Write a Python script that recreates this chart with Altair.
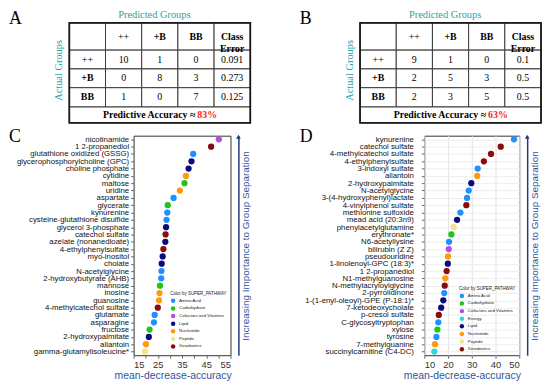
import altair as alt
import pandas as pd

# ----------------------------- data -----------------------------
GROUPS = ["++", "+B", "BB"]
CONF_A = [[10, 1, 0], [0, 8, 3], [1, 0, 7]]
ERR_A = ["0.091", "0.273", "0.125"]
ACC_A = "83%"
CONF_B = [[9, 1, 0], [2, 5, 3], [2, 3, 5]]
ERR_B = ["0.1", "0.5", "0.5"]
ACC_B = "63%"

PATHWAYS = ["Amino Acid", "Carbohydrate", "Cofactors and Vitamins", "Energy",
            "Lipid", "Nucleotide", "Peptide", "Xenobiotics"]
PATHWAY_COLORS = ["#1e90ff", "#1fc41f", "#b24fe0", "#2ed8cf",
                  "#0b0b7d", "#ff9a0d", "#f5e28c", "#8b0b0b"]

C_NAMES = ["nicotinamide", "1 2-propanediol", "glutathione oxidized (GSSG)",
           "glycerophosphorylcholine (GPC)", "choline phosphate", "cytidine", "maltose",
           "uridine", "aspartate", "glycerate", "kynurenine", "cysteine-glutathione disulfide",
           "glycerol 3-phosphate", "catechol sulfate", "azelate (nonanedioate)",
           "4-ethylphenylsulfate", "myo-inositol", "cholate", "N-acetylglycine",
           "2-hydroxybutyrate (AHB)", "mannose", "inosine", "guanosine",
           "4-methylcatechol sulfate", "glutamate", "asparagine", "fructose",
           "2-hydroxypalmitate", "allantoin", "gamma-glutamylisoleucine*"]
C_VALUES = [50.2, 47.0, 39.6, 38.9, 37.7, 36.6, 36.0, 34.1, 31.5, 29.1, 28.9, 28.6, 28.4,
            28.2, 28.1, 27.3, 27.0, 26.6, 26.5, 26.4, 25.9, 25.7, 25.5, 25.0, 23.7, 23.4,
            21.6, 21.3, 20.1, 19.7]
C_PATHWAY = ["Cofactors and Vitamins", "Xenobiotics", "Amino Acid", "Lipid", "Lipid",
             "Nucleotide", "Carbohydrate", "Nucleotide", "Amino Acid", "Carbohydrate",
             "Amino Acid", "Amino Acid", "Lipid", "Xenobiotics", "Lipid", "Xenobiotics",
             "Lipid", "Lipid", "Amino Acid", "Amino Acid", "Carbohydrate", "Nucleotide",
             "Nucleotide", "Xenobiotics", "Amino Acid", "Amino Acid", "Carbohydrate",
             "Lipid", "Nucleotide", "Peptide"]
C_TICKS = [15, 20, 25, 30, 35, 40, 45, 50, 55]

D_NAMES = ["kynurenine", "catechol sulfate", "4-methylcatechol sulfate",
           "4-ethylphenylsulfate", "3-indoxyl sulfate", "allantoin", "2-hydroxypalmitate",
           "N-acetylglycine", "3-(4-hydroxyphenyl)lactate", "4-vinylphenol sulfate",
           "methionine sulfoxide", "mead acid (20:3n9)", "phenylacetylglutamine",
           "erythronate*", "N6-acetyllysine", "bilirubin (Z Z)", "pseudouridine",
           "1-linolenoyl-GPC (18:3)*", "1 2-propanediol", "N1-methylguanosine",
           "N-methylacryloylglycine", "2-pyrrolidinone", "1-(1-enyl-oleoyl)-GPE (P-18:1)*",
           "7-ketodeoxycholate", "p-cresol sulfate", "C-glycosyltryptophan", "xylose",
           "tyrosine", "7-methylguanine", "succinylcarnitine (C4-DC)"]
D_VALUES = [47.8, 42.2, 38.1, 35.1, 32.5, 32.3, 29.8, 28.7, 28.0, 27.7, 25.2, 23.8, 22.4,
            21.4, 20.4, 20.3, 20.0, 19.9, 19.4, 18.8, 18.6, 18.4, 18.0, 17.1, 16.1, 15.9,
            15.5, 15.1, 14.5, 14.2]
D_PATHWAY = ["Amino Acid", "Xenobiotics", "Xenobiotics", "Xenobiotics", "Amino Acid",
             "Nucleotide", "Lipid", "Amino Acid", "Amino Acid", "Xenobiotics", "Amino Acid",
             "Lipid", "Peptide", "Carbohydrate", "Amino Acid", "Cofactors and Vitamins",
             "Nucleotide", "Lipid", "Xenobiotics", "Nucleotide", "Xenobiotics", "Amino Acid",
             "Lipid", "Lipid", "Xenobiotics", "Amino Acid", "Carbohydrate", "Amino Acid",
             "Nucleotide", "Energy"]
D_TICKS = [10, 20, 30, 40, 50]

# ----------------------------- style / layout -----------------------------
SERIF = "Liberation Serif"
SANS = "Liberation Sans"
TEAL = "#1fa5a5"
AXIS_BLUE = "#2b56a0"
ARROW_BLUE = "#1f3a80"
ROW_H = [27.5, 19, 19, 19.5, 16]   # relative row heights of the tables
TBL_X = [-65, 118]                 # pixel extent of a table relative to the panel below it
TBL_H = 101
DOT_H = 222
LETTER_X = -126


def table_chart(conf, err, acc, letter):
    edges = [0.0]
    for h in ROW_H:
        edges.append(edges[-1] + h)
    total = edges[-1]
    mid = [(edges[i] + edges[i + 1]) / 2 for i in range(5)]
    cells = [dict(x0=c, x1=c + 1, y0=edges[r], y1=edges[r + 1]) for r in range(4) for c in range(5)]
    cells.append(dict(x0=0, x1=5, y0=edges[4], y1=edges[5]))

    normal, bold = [], []
    for j, g in enumerate(GROUPS):
        (normal if g == "++" else bold).append(dict(t=g, x=j + 1.5, y=mid[0]))
    bold.append(dict(t="Class\nError", x=4.5, y=mid[0]))
    for i, g in enumerate(GROUPS):
        (normal if g == "++" else bold).append(dict(t=g, x=0.5, y=mid[i + 1]))
        for j in range(3):
            normal.append(dict(t=str(conf[i][j]), x=j + 1.5, y=mid[i + 1]))
        normal.append(dict(t=err[i], x=4.5, y=mid[i + 1]))

    xs = alt.Scale(domain=[0, 5], range=TBL_X, nice=False, zero=False)
    ys = alt.Scale(domain=[0, total], nice=False, zero=False, reverse=True)

    def X(f):
        return alt.X(f, scale=xs, axis=None)

    def Y(f):
        return alt.Y(f, scale=ys, axis=None)

    grid = alt.Chart(pd.DataFrame(cells)).mark_rect(
        fill="white", stroke="#3a3a3a", strokeWidth=1
    ).encode(x=X("x0:Q"), x2="x1:Q", y=Y("y0:Q"), y2="y1:Q")
    border = alt.Chart(pd.DataFrame({"x0": [0], "x1": [5], "y0": [0.0], "y1": [total]})).mark_rect(
        fillOpacity=0, stroke="#1a1a1a", strokeWidth=1.8
    ).encode(x=X("x0:Q"), x2="x1:Q", y=Y("y0:Q"), y2="y1:Q")

    def txt(rows, weight):
        return alt.Chart(pd.DataFrame(rows)).mark_text(
            font=SERIF, fontSize=10, fontWeight=weight, color="black", lineBreak="\n", lineHeight=13
        ).encode(x=X("x:Q"), y=Y("y:Q"), text="t:N")

    foot = pd.DataFrame({"x": [2.5], "y": [mid[4]], "a": ["Predictive Accuracy \u2248 "], "b": [acc]})
    foot1 = alt.Chart(foot).mark_text(font=SERIF, fontSize=10, fontWeight="bold", color="black",
                                      align="right", dx=36).encode(x=X("x:Q"), y=Y("y:Q"), text="a:N")
    foot2 = alt.Chart(foot).mark_text(font=SERIF, fontSize=10, fontWeight="bold", color="#ff1a1a",
                                      align="left", dx=38).encode(x=X("x:Q"), y=Y("y:Q"), text="b:N")

    lab = pd.DataFrame({"t": [letter], "p": ["Predicted Groups"], "q": ["Actual Groups"]})
    let = alt.Chart(lab).mark_text(
        font=SERIF, fontSize=18, align="left", baseline="alphabetic", color="black"
    ).encode(text="t:N", x=alt.value(LETTER_X), y=alt.value(1))
    pred = alt.Chart(lab).mark_text(
        font=SERIF, fontSize=10.5, align="center", baseline="alphabetic", color=TEAL
    ).encode(text="p:N", x=alt.value(21), y=alt.value(-5))
    act = alt.Chart(lab).mark_text(
        font=SERIF, fontSize=10.5, align="center", baseline="middle", color=TEAL, angle=270
    ).encode(text="q:N", x=alt.value(-75), y=alt.value(48))

    return alt.layer(grid, border, txt(normal, "normal"), txt(bold, "bold"), foot1, foot2,
                     let, pred, act).properties(width=TBL_X[1], height=TBL_H)


def dot_chart(names, vals, paths, xdom, ticks, width, letter, legend_dom, lx, ly, lab_pad, grid, title_x):
    df = pd.DataFrame({"name": names, "v": vals, "p": paths})
    cols = [PATHWAY_COLORS[PATHWAYS.index(p)] for p in legend_dom]
    pts = alt.Chart(df).mark_circle(size=40, opacity=1).encode(
        x=alt.X("v:Q", scale=alt.Scale(domain=xdom, nice=False, zero=False), axis=alt.Axis(
            values=ticks, title="mean-decrease-accuracy", titleColor=AXIS_BLUE, titleFont=SANS,
            titleFontSize=10.5, titleFontWeight="normal", labelFont=SANS, labelFontSize=9.5,
            labelColor="#333", tickSize=3, tickColor="#666", labelPadding=1, titlePadding=2,
            domain=False, grid=grid, gridColor="#e4e4e4", titleX=title_x)),
        y=alt.Y("name:N", sort=names, axis=alt.Axis(
            title=None, labelFont=SANS, labelFontSize=7.9, labelColor="#111", tickSize=3,
            tickColor="#666", labelPadding=lab_pad, domain=False, grid=grid, gridColor="#ededed",
            labelLimit=300)),
        color=alt.Color("p:N", scale=alt.Scale(domain=legend_dom, range=cols), legend=alt.Legend(
            title="Color by SUPER_PATHWAY", orient="none", legendX=lx, legendY=ly,
            titleFont=SANS, titleFontSize=4.5, titleFontWeight="normal", titleColor="#222",
            labelFont=SANS, labelFontSize=4.4, labelColor="#222", symbolSize=20,
            symbolType="circle", rowPadding=1.7, titlePadding=2.5, padding=0, labelOffset=3)),
    )
    right = alt.Chart(df).mark_circle(opacity=0).encode(
        y=alt.Y("name:N", sort=names, axis=alt.Axis(
            orient="right", title="Increasing Importance to Group Separation", labels=False,
            ticks=False, domain=True, domainColor=ARROW_BLUE, domainWidth=1.5, offset=8,
            grid=False, titleAngle=270, titleBaseline="top", titlePadding=2, titleFont=SANS,
            titleFontSize=10, titleFontWeight="normal", titleColor=AXIS_BLUE)))
    arrow = alt.Chart(pd.DataFrame({"a": [0]})).mark_point(
        shape="triangle-up", filled=True, size=22, color=ARROW_BLUE, opacity=1
    ).encode(x=alt.value(width + 8), y=alt.value(1))
    let = alt.Chart(pd.DataFrame({"t": [letter]})).mark_text(
        font=SERIF, fontSize=18, align="left", baseline="alphabetic", color="black"
    ).encode(text="t:N", x=alt.value(LETTER_X), y=alt.value(6))
    return alt.layer(pts, right, arrow, let).resolve_axis(y="independent").properties(
        width=width, height=DOT_H, view=alt.ViewBackground(stroke="#333", strokeWidth=1))


tA = table_chart(CONF_A, ERR_A, ACC_A, "A")
tB = table_chart(CONF_B, ERR_B, ACC_B, "B")
C_LEG = [p for p in PATHWAYS if p != "Energy"]
dC = dot_chart(C_NAMES, C_VALUES, C_PATHWAY, [15, 55], C_TICKS, 98, "C", C_LEG, 37, 157, 2, False, 39.5)
dD = dot_chart(D_NAMES, D_VALUES, D_PATHWAY, [10, 50], D_TICKS, 96, "D", PATHWAYS, 35, 152, 8, True, 38)

top = alt.hconcat(tA, tB, spacing=294 - TBL_X[1], bounds="flush").resolve_scale(
    x="independent", y="independent")
bottom = alt.hconcat(dC, dD, spacing=196, bounds="flush").resolve_scale(
    color="independent", x="independent", y="independent")
chart = alt.vconcat(top, bottom, spacing=3).properties(padding=0).configure_view(stroke=None)

chart.save("out.html", embed_options={"renderer": "svg", "actions": False})
